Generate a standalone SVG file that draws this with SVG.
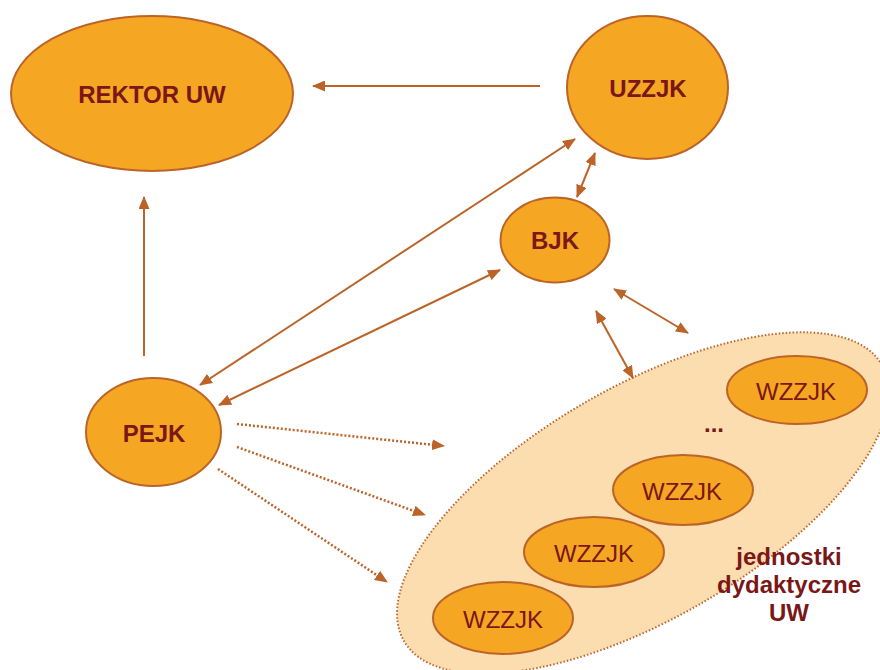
<svg xmlns="http://www.w3.org/2000/svg" width="880" height="670" viewBox="0 0 880 670">
  <style>
    .node { fill: #F5A623; stroke: #BC6428; stroke-width: 2; }
    .group { fill: #FCDDB0; stroke: #C0642C; stroke-width: 2; stroke-dasharray: 1.5 2; }
    .lbl { font-family: "Liberation Sans", Arial, sans-serif; font-weight: bold; font-size: 24px; fill: #7A1717; text-anchor: middle; }
    .wl { font-family: "Liberation Sans", Arial, sans-serif; font-size: 24px; fill: #7A1717; text-anchor: middle; }
    .edge { stroke: #BC6428; stroke-width: 2; fill: none; }
    .dot { stroke: #BC6428; stroke-width: 2.5; fill: none; stroke-dasharray: 2 2; }
  </style>
  <defs>
    <marker id="ah" viewBox="0 0 13 11" refX="12" refY="5.5" markerWidth="13" markerHeight="11" markerUnits="userSpaceOnUse" orient="auto-start-reverse">
      <path d="M0,0 L13,5.5 L0,11 Z" fill="#BC6428"/>
    </marker>
  </defs>

  <g id="group-jednostki">
    <ellipse class="group" cx="643" cy="503" rx="276" ry="116" transform="rotate(-30 643 503)"/>
    <text class="lbl" x="789" y="565">jednostki</text>
    <text class="lbl" x="789" y="593">dydaktyczne</text>
    <text class="lbl" x="789" y="621">UW</text>
    <text class="lbl" x="714" y="432">...</text>
  </g>

  <g id="connectors">
    <line class="edge" x1="540" y1="86" x2="313" y2="86" marker-end="url(#ah)"/>
    <line class="edge" x1="144" y1="356" x2="144" y2="197" marker-end="url(#ah)"/>
    <line class="edge" x1="200" y1="385" x2="575" y2="139" marker-start="url(#ah)" marker-end="url(#ah)"/>
    <line class="edge" x1="219" y1="405" x2="500" y2="270" marker-start="url(#ah)" marker-end="url(#ah)"/>
    <line class="edge" x1="577" y1="197" x2="595" y2="153" marker-start="url(#ah)" marker-end="url(#ah)"/>
    <line class="edge" x1="614" y1="289" x2="688" y2="333" marker-start="url(#ah)" marker-end="url(#ah)"/>
    <line class="edge" x1="596" y1="311" x2="633" y2="378" marker-start="url(#ah)" marker-end="url(#ah)"/>
    <line class="dot" x1="237" y1="424" x2="444" y2="446" marker-end="url(#ah)"/>
    <line class="dot" x1="237" y1="447" x2="425" y2="515" marker-end="url(#ah)"/>
    <line class="dot" x1="218" y1="469" x2="387" y2="582" marker-end="url(#ah)"/>
  </g>

  <g id="rektor">
    <ellipse class="node" cx="152" cy="93.5" rx="141" ry="77.5"/>
    <text class="lbl" x="152" y="103">REKTOR UW</text>
  </g>
  <g id="uzzjk">
    <ellipse class="node" cx="647.5" cy="87.5" rx="80.5" ry="71.5"/>
    <text class="lbl" x="648" y="97">UZZJK</text>
  </g>
  <g id="bjk">
    <ellipse class="node" cx="555" cy="240" rx="54.5" ry="42.5"/>
    <text class="lbl" x="555" y="249">BJK</text>
  </g>
  <g id="pejk">
    <ellipse class="node" cx="153.5" cy="432" rx="67.5" ry="54"/>
    <text class="lbl" x="154" y="442">PEJK</text>
  </g>
  <g id="wzzjk1">
    <ellipse class="node" cx="797" cy="390" rx="70" ry="34"/>
    <text class="wl" x="796" y="400">WZZJK</text>
  </g>
  <g id="wzzjk2">
    <ellipse class="node" cx="683" cy="490" rx="70" ry="35"/>
    <text class="wl" x="682" y="500">WZZJK</text>
  </g>
  <g id="wzzjk3">
    <ellipse class="node" cx="594" cy="552" rx="70" ry="35"/>
    <text class="wl" x="594" y="562">WZZJK</text>
  </g>
  <g id="wzzjk4">
    <ellipse class="node" cx="503" cy="618" rx="70" ry="36"/>
    <text class="wl" x="503" y="628">WZZJK</text>
  </g>
</svg>
